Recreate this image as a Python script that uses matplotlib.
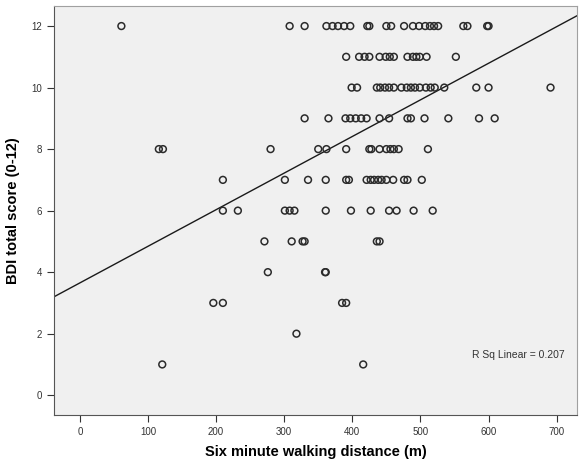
import numpy as np
import matplotlib
matplotlib.use("Agg")
import matplotlib.pyplot as plt

plt.rcParams["font.family"] = ["Liberation Sans", "DejaVu Sans"]

# six minute walking distance (m) per BDI score row
walk_by_score = {
    12: [61, 308, 330, 362, 371, 379, 388, 397, 422, 425, 450, 457, 476,
         489, 498, 507, 514, 520, 526, 563, 569, 598, 600],
    11: [391, 410, 418, 425, 440, 449, 455, 461, 481, 489, 494, 499, 509, 552],
    10: [399, 407, 436, 441, 448, 454, 461, 472, 480, 486, 492, 499, 508,
         515, 521, 535, 582, 600, 691],
    9: [330, 365, 390, 397, 405, 413, 421, 440, 454, 481, 486, 506, 541, 586, 609],
    8: [116, 122, 280, 350, 362, 391, 425, 428, 440, 450, 456, 461, 468, 511],
    7: [210, 301, 335, 361, 391, 395, 421, 427, 432, 438, 443, 450, 460,
        476, 481, 502],
    6: [210, 232, 301, 308, 315, 361, 398, 427, 454, 465, 490, 518],
    5: [271, 311, 327, 330, 436, 440],
    4: [276, 360, 361],
    3: [196, 210, 385, 391],
    2: [318],
    1: [121, 416],
}

# fit line as drawn in the chart
intercept = 3.65
slope = 0.0119
r_sq = 0.207

x_ticks = [0, 100, 200, 300, 400, 500, 600, 700]
y_ticks = [0, 2, 4, 6, 8, 10, 12]

walk = []
bdi = []
for score, vals in walk_by_score.items():
    walk += vals
    bdi += [score] * len(vals)
walk = np.array(walk, dtype=float)
bdi = np.array(bdi, dtype=float)

fig = plt.figure(figsize=(5.8, 4.66), dpi=100)
ax = fig.add_axes([0.093, 0.109, 0.902, 0.878])
ax.set_facecolor("#f0f0f0")

ax.scatter(walk, bdi, s=24, facecolors="none", edgecolors="#2b2b2b",
           linewidths=1.1, zorder=3)

xlim = (-38, 730)
xs = np.array(xlim)
ax.plot(xs, intercept + slope * xs, color="#1a1a1a", lw=1.0, zorder=2)

ax.set_xlim(*xlim)
ax.set_ylim(-0.65, 12.65)
ax.set_xticks(x_ticks)
ax.set_yticks(y_ticks)
ax.tick_params(labelsize=7, colors="#333333", length=5, width=0.8)

for side in ["top", "right"]:
    ax.spines[side].set_color("#a0a0a0")
for side in ["left", "bottom"]:
    ax.spines[side].set_color("#555555")

ax.set_xlabel("Six minute walking distance (m)", fontsize=10.5,
              fontweight="bold", labelpad=6)
ax.set_ylabel("BDI total score (0-12)", fontsize=10.5,
              fontweight="bold", labelpad=8)

ax.text(575, 1.3, f"R Sq Linear = {r_sq:.3f}", fontsize=7.5,
        color="#333333", va="center", ha="left")

fig.savefig("out.png", dpi=100)
